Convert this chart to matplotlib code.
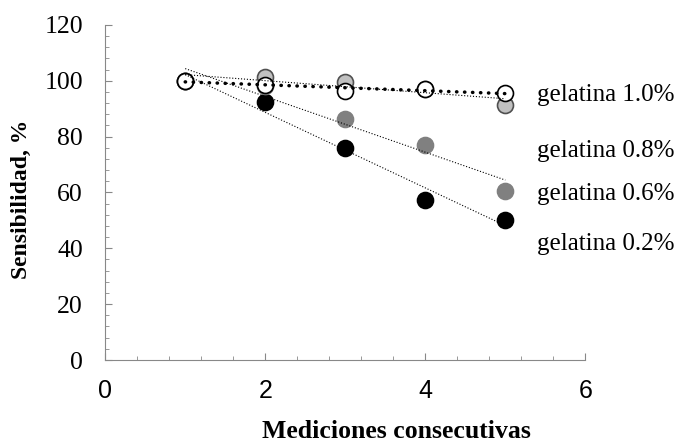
import numpy as np
import matplotlib.pyplot as plt

mediciones = [1, 2, 3, 4, 5]
gel_02 = [100, 92.5, 76, 57.3, 50]
gel_06 = [100, 98, 86.4, 77, 60.6]
gel_08 = [100, 101.4, 99.6, 97, 91.4]
gel_10 = [100, 98.5, 96.5, 97, 95.5]
etiquetas = ['gelatina 1.0%', 'gelatina 0.8%', 'gelatina 0.6%', 'gelatina 0.2%']
etiq_y = [95, 75, 59.5, 41.5]

serif = 'Liberation Serif'

fig = plt.figure(figsize=(6.83, 4.45), dpi=100)
ax = fig.add_axes([0.154, 0.191, 0.703, 0.753])

x = np.array(mediciones)
xx = np.array([1, 5])

series = [(gel_02, 'black', 'black'),
          (gel_06, '#808080', '#808080'),
          (gel_08, '#c0c0c0', '#505050'),
          (gel_10, 'white', 'black')]
for i, (y, fc, ec) in enumerate(series):
    ax.plot(x, y, 'o', ms=11.5, mfc=fc, mec=ec, mew=1.2, zorder=3 + i)

# lineas de tendencia
for y in [gel_02, gel_06, gel_08]:
    p = np.polyfit(x, y, 1)
    ax.plot(xx, np.polyval(p, xx), ':', color='black', lw=0.8, zorder=8)
p = np.polyfit(x, gel_10, 1)
ax.plot(xx, np.polyval(p, xx), color='black', lw=2.5, ls=(0, (0.1, 2.2)),
        dash_capstyle='round', zorder=9)

for t, yy in zip(etiquetas, etiq_y):
    ax.text(5.4, yy, t, fontsize=18, family=serif, va='center', ha='left',
            clip_on=False)

ax.set_xlim(0, 6)
ax.set_ylim(0, 120)
ax.set_xticks([0, 2, 4, 6])
ax.set_xticks(np.arange(0, 6.01, 0.4), minor=True)
ax.set_yticks(np.arange(0, 121, 20))
ax.set_yticks(np.arange(0, 121, 4), minor=True)
for s in ['top', 'right']:
    ax.spines[s].set_visible(False)
for s in ['left', 'bottom']:
    ax.spines[s].set_color('#888888')
ax.tick_params(which='both', direction='in', color='#888888')
ax.tick_params(which='major', length=5)
ax.tick_params(which='minor', length=3)
ax.tick_params(axis='x', labelsize=18, pad=14)
ax.tick_params(axis='y', labelsize=18.5, pad=16)
for lab in ax.get_yticklabels():
    lab.set_family(serif)
for lab in ax.get_xticklabels():
    lab.set_family('Liberation Sans')

ax.set_xlabel('Mediciones consecutivas', fontsize=18.5, family=serif,
              fontweight='bold')
ax.xaxis.set_label_coords(0.606, -0.18)
ax.set_ylabel('Sensibilidad, %', fontsize=17, family=serif,
              fontweight='bold')
ax.yaxis.set_label_coords(-0.152, 0.48)

fig.savefig('out.png', dpi=100)
